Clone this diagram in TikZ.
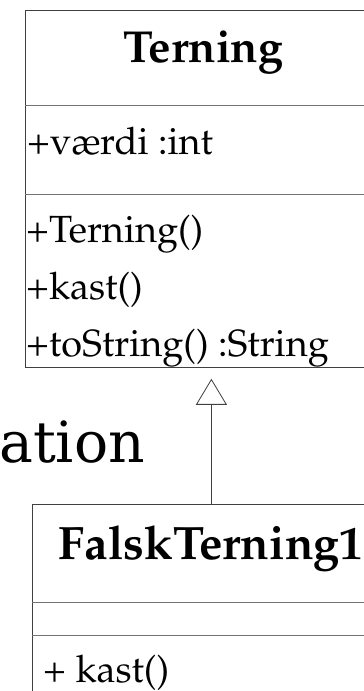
\documentclass[tikz,border=0pt]{standalone}
\usepackage{fontspec}
\newfontfamily\ationfont{DejaVu Serif}
\newcommand\umlfont{\fontencoding{OT1}\fontfamily{ppl}\selectfont}
\usetikzlibrary{positioning,arrows.meta}

\begin{document}
\begin{tikzpicture}[x=1bp,y=1bp]
\tikzset{klasse/.style={draw=black!75,line width=0.8bp,minimum width=357bp,inner sep=0pt,anchor=north west},
  skille/.style={draw=black!55,line width=0.7bp},
  titel/.style={font=\umlfont\bfseries\fontsize{45}{54}\selectfont,anchor=base,inner sep=0pt},
  felt/.style={font=\umlfont\fontsize{38}{46}\selectfont,anchor=base west,inner sep=0pt}}
\useasboundingbox (0,0) rectangle (363,691);
% superklassen
\node[klasse,minimum height=357bp] (terning) at (25,681) {};
\draw[skille] ([yshift=-95bp]terning.north west) -- ([yshift=-95bp]terning.north east);
\draw[skille] ([yshift=-184bp]terning.north west) -- ([yshift=-184bp]terning.north east);
\node[titel] (ternavn) at (203.5,628) {Terning};
\node[felt] (vaerdi) at (27,536) {+v\ae rdi :int};
\node[felt] (konstr) at (26,448) {+Terning()};
\node[felt] (kast) at (26,391) {+kast()};
\node[felt] (tostr) at (26,334) {+toString() :String};
% subklassen
\node[klasse,minimum width=358bp,minimum height=220bp] (falsk) at (32,187) {};
\draw[skille] ([yshift=-98bp]falsk.north west) -- ([yshift=-98bp]falsk.north east);
\draw[skille] ([yshift=-131bp]falsk.north west) -- ([yshift=-131bp]falsk.north east);
\node[titel,font=\umlfont\bfseries\fontsize{47}{56}\selectfont] (falsknavn) at (211,131) {FalskTerning1};
\node[felt] (falskkast) at (43,8) {+ kast()};
% arv
\coordinate (spids) at ([yshift=-11bp]terning.south -| falsk.north);
\draw[draw=black!75,line width=0.8bp,-{Triangle[open,length=26bp,width=31bp]}] (falsk.north) -- (spids);
\node[font=\ationfont\fontsize{57}{66}\selectfont,anchor=base west,inner sep=0pt] (ation) at (-1,228) {ation};
\end{tikzpicture}
\end{document}
